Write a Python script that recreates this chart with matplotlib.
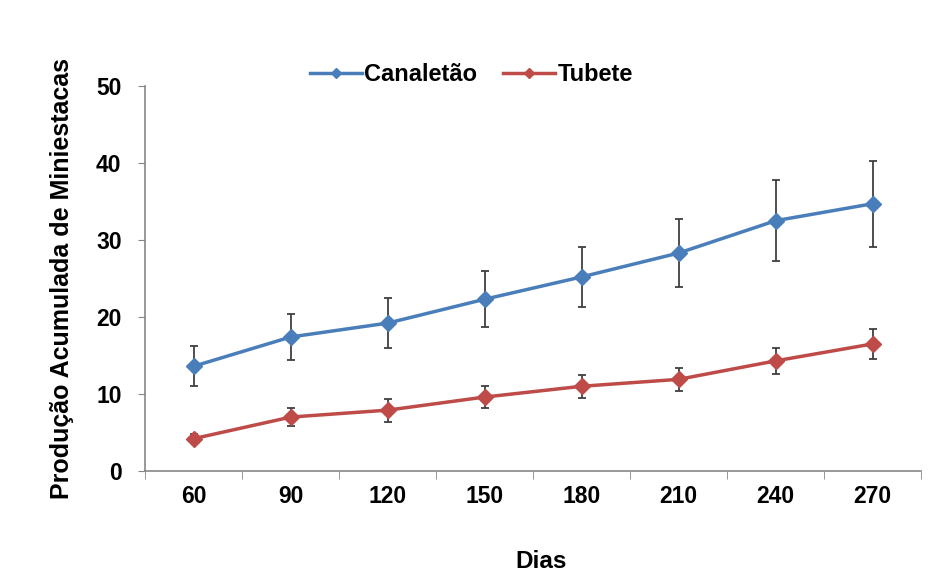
import numpy as np
import matplotlib.pyplot as plt

# dados
dias = ['60', '90', '120', '150', '180', '210', '240', '270']
canaletao = [13.6, 17.4, 19.2, 22.3, 25.2, 28.3, 32.5, 34.7]
canaletao_err = [2.6, 3.0, 3.2, 3.6, 3.9, 4.4, 5.3, 5.6]
tubete = [4.2, 7.0, 7.9, 9.6, 11.0, 11.9, 14.3, 16.5]
tubete_err = [0.6, 1.2, 1.5, 1.4, 1.5, 1.5, 1.7, 1.9]

plt.rcParams['font.family'] = ['Liberation Sans', 'DejaVu Sans']
plt.rcParams['font.weight'] = 'bold'

fig = plt.figure(figsize=(9.43, 5.88), dpi=100)
ax = fig.add_axes([0.154, 0.199, 0.823, 0.655])

x = np.arange(len(dias))
ax.errorbar(x, canaletao, yerr=canaletao_err, color='#4A7EBB', marker='D',
            markersize=8.5, linewidth=2.5, ecolor='#404040', elinewidth=1.3,
            capsize=3, capthick=1.3, label='Canaletão', zorder=3)
ax.errorbar(x, tubete, yerr=tubete_err, color='#BE4B48', marker='D',
            markersize=8.5, linewidth=2.5, ecolor='#404040', elinewidth=1.3,
            capsize=3, capthick=1.3, label='Tubete', zorder=3)

ax.set_xlim(-0.5, len(dias) - 0.5)
ax.set_ylim(0, 50)
ax.set_yticks([0, 10, 20, 30, 40, 50])
ax.set_xticks(x)
ax.set_xticklabels(dias)
ax.set_xticks(np.arange(len(dias) + 1) - 0.5, minor=True)
ax.tick_params(axis='x', which='major', length=0, pad=10, labelsize=16.5)
ax.tick_params(axis='x', which='minor', length=6, color='#868686')
ax.tick_params(axis='y', length=5, color='#868686', labelsize=16.5, pad=12)

for s in ['top', 'right']:
    ax.spines[s].set_visible(False)
for s in ['left', 'bottom']:
    ax.spines[s].set_color('#868686')
    ax.spines[s].set_linewidth(1.2)

ax.set_xlabel('Dias', fontsize=17.5, fontweight='bold')
ax.xaxis.set_label_coords(0.51, -0.205)
ax.set_ylabel('Produção Acumulada de Miniestacas', fontsize=18,
              fontweight='bold', labelpad=16)

h, l = ax.get_legend_handles_labels()
h = [hh[0] for hh in h]
ax.legend(h, l, loc='center', bbox_to_anchor=(0.42, 1.03), ncol=2,
          frameon=False, fontsize=17, handlelength=2.2, columnspacing=1.1,
          handletextpad=0.1, markerscale=0.6)

fig.savefig('out.png', dpi=100)
